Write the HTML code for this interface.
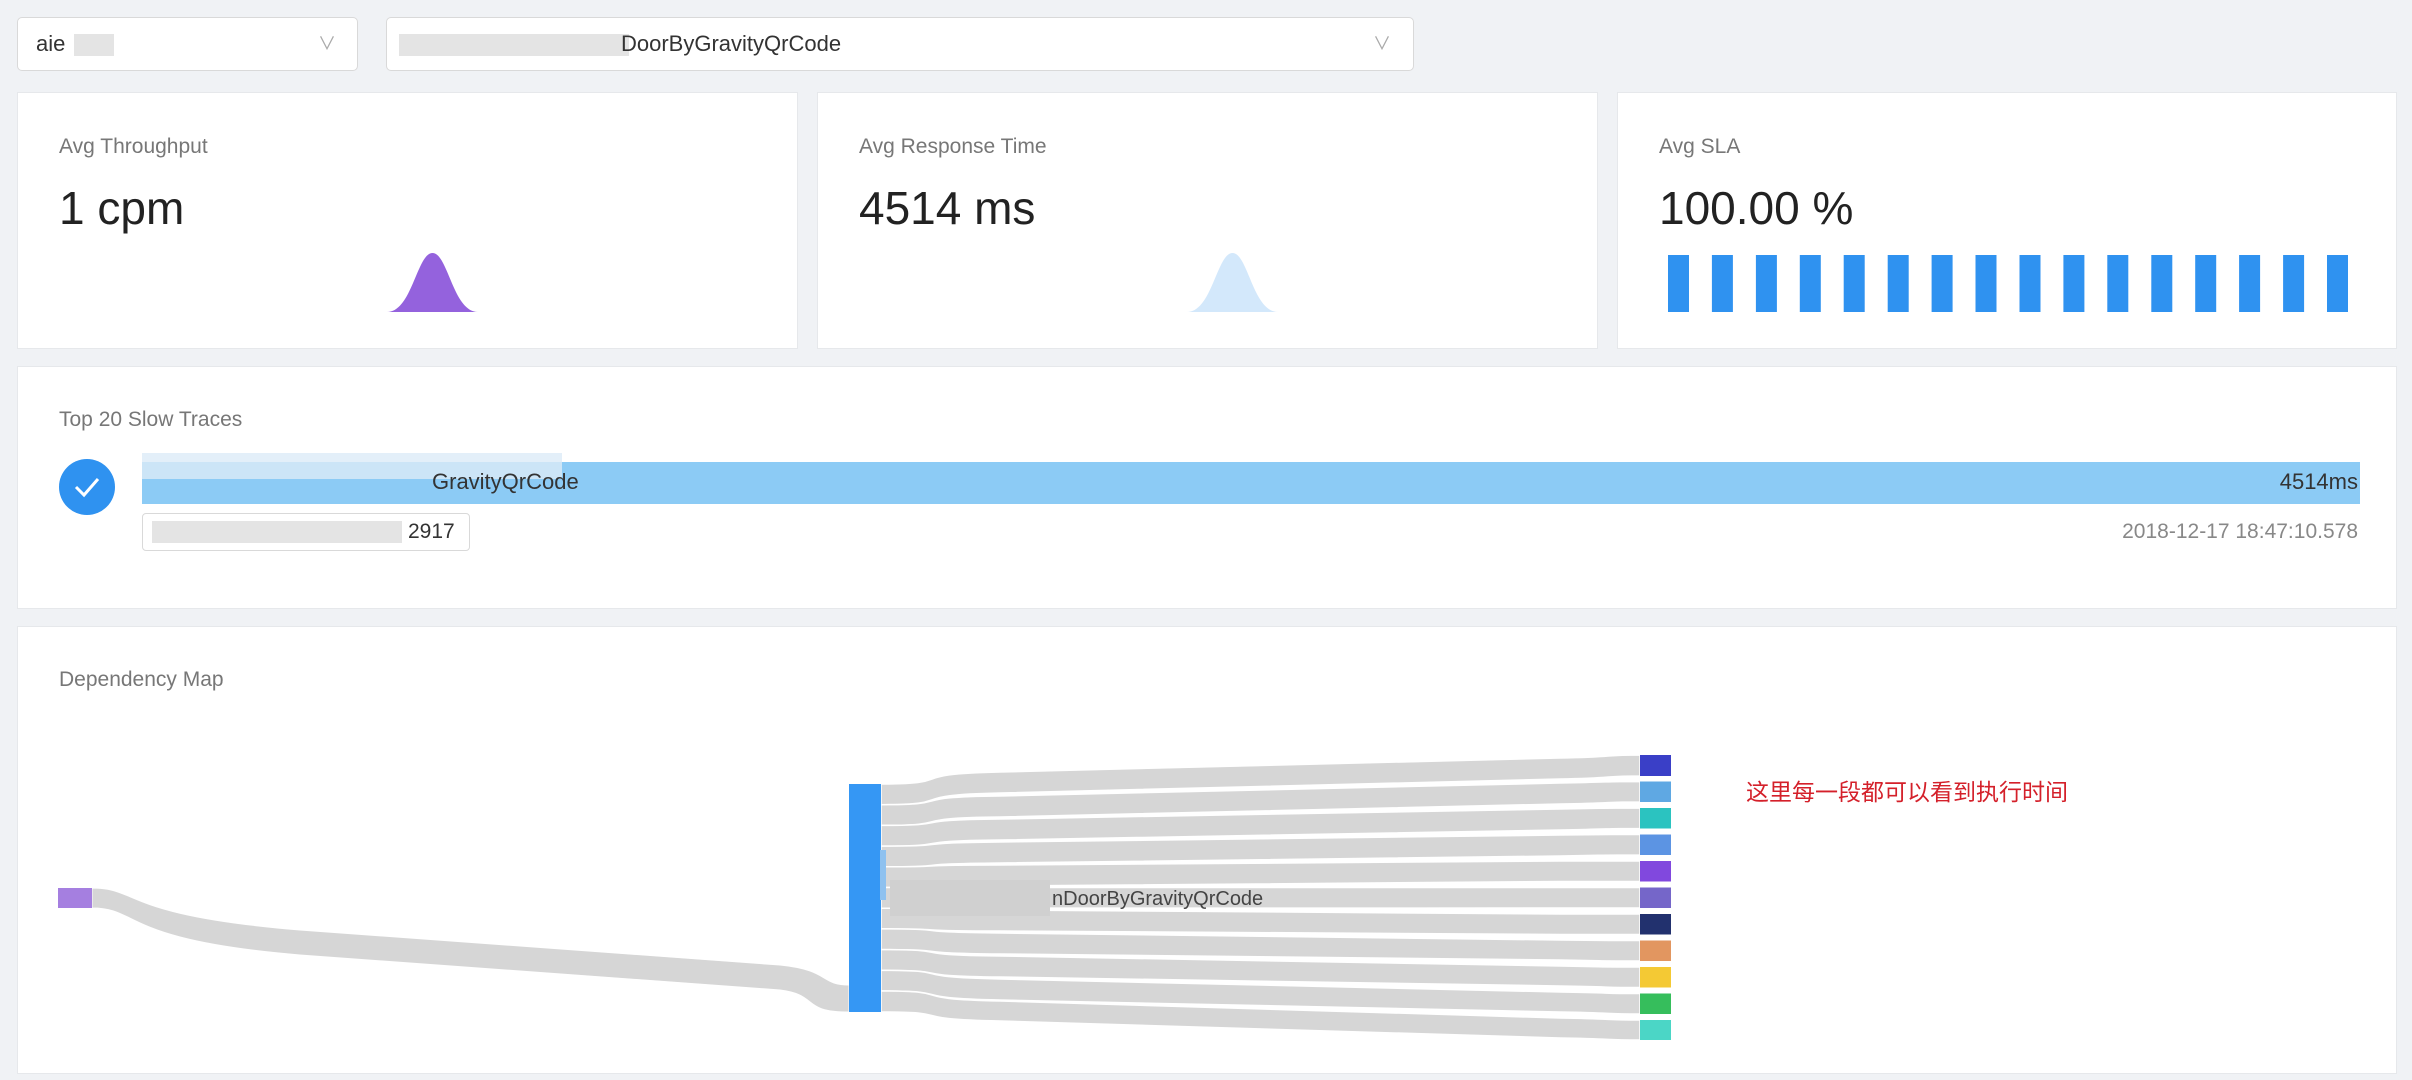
<!DOCTYPE html>
<html><head><meta charset="utf-8"><style>
body{margin:0;width:2412px;height:1080px;background:#f0f2f5;font-family:"Liberation Sans","Noto Sans CJK SC",sans-serif;position:relative;overflow:hidden}
.a{position:absolute}
.card{position:absolute;background:#fff;border:1px solid #e6e8eb;box-sizing:border-box}
.sel{position:absolute;background:#fff;border:1px solid #d9d9d9;border-radius:5px;box-sizing:border-box}
.t{position:absolute;color:#777;font-size:21px}
.v{position:absolute;color:#222;font-size:46px}
.blur{position:absolute;background:#d4d4d4;opacity:.8}
</style></head><body>
<div class="sel" style="left:17px;top:17px;width:341px;height:54px">
 <div class="a" style="left:18px;top:13px;font-size:22px;color:#333">aie</div>
 <div class="blur" style="left:56px;top:16px;width:40px;height:22px;background:#ddd"></div>
 <div class="a" style="left:300px;top:12px;font-size:18px;color:#aaa">∨</div>
</div>
<div class="sel" style="left:386px;top:17px;width:1028px;height:54px">
 <div class="blur" style="left:12px;top:16px;width:230px;height:22px;background:#ddd"></div>
 <div class="a" style="left:234px;top:13px;font-size:22px;color:#333">DoorByGravityQrCode</div>
 <div class="a" style="left:986px;top:12px;font-size:18px;color:#aaa">∨</div>
</div>

<div class="card" style="left:17px;top:92px;width:781px;height:257px">
 <div class="t" style="left:41px;top:42px">Avg Throughput</div>
 <div class="v" style="left:41px;top:88px">1 cpm</div>
 <svg class="a" style="left:369px;top:160px" width="91" height="60"><path d="M0,59 C25,59 30,0 45.5,0 C61,0 66,59 91,59Z" fill="#9462dd"/></svg>
</div>
<div class="card" style="left:817px;top:92px;width:781px;height:257px">
 <div class="t" style="left:41px;top:42px">Avg Response Time</div>
 <div class="v" style="left:41px;top:88px">4514 ms</div>
 <svg class="a" style="left:369px;top:160px" width="91" height="60"><path d="M0,59 C25,59 30,0 45.5,0 C61,0 66,59 91,59Z" fill="#d3e8fb"/></svg>
</div>
<div class="card" style="left:1617px;top:92px;width:780px;height:257px">
 <div class="t" style="left:41px;top:42px">Avg SLA</div>
 <div class="v" style="left:41px;top:88px">100.00 %</div>
 <svg class="a" style="left:50px;top:162px" width="690" height="58">
  <g fill="#2f92f0">
  <rect x="0" width="21" height="57"/><rect x="43.9" width="21" height="57"/><rect x="87.9" width="21" height="57"/><rect x="131.8" width="21" height="57"/><rect x="175.7" width="21" height="57"/><rect x="219.7" width="21" height="57"/><rect x="263.6" width="21" height="57"/><rect x="307.5" width="21" height="57"/><rect x="351.5" width="21" height="57"/><rect x="395.4" width="21" height="57"/><rect x="439.3" width="21" height="57"/><rect x="483.3" width="21" height="57"/><rect x="527.2" width="21" height="57"/><rect x="571.1" width="21" height="57"/><rect x="615.1" width="21" height="57"/><rect x="659" width="21" height="57"/>
  </g></svg>
</div>

<div class="card" style="left:17px;top:366px;width:2380px;height:243px">
 <div class="t" style="left:41px;top:41px">Top 20 Slow Traces</div>
 <svg class="a" style="left:40px;top:92px" width="58" height="58"><circle cx="29" cy="28" r="28" fill="#2f92f0"/><path d="M18,28 l8,8 l14,-16" stroke="#fff" stroke-width="3" fill="none"/></svg>
 <div class="a" style="left:124px;top:95px;width:2218px;height:42px;background:#8ccbf5"></div>
 <div class="blur" style="left:124px;top:86px;width:420px;height:26px;background:#dcebf7"></div>
 <div class="a" style="left:414px;top:102px;font-size:22px;color:#333">GravityQrCode</div>
 <div class="a" style="right:38px;top:102px;font-size:22px;color:#333">4514ms</div>
 <div class="a" style="left:124px;top:146px;width:328px;height:38px;border:1px solid #d9d9d9;border-radius:4px;box-sizing:border-box"></div>
 <div class="blur" style="left:134px;top:154px;width:250px;height:22px;background:#ddd"></div>
 <div class="a" style="left:390px;top:153px;font-size:21px;color:#333">2917</div>
 <div class="a" style="right:38px;top:153px;font-size:21px;color:#888">2018-12-17 18:47:10.578</div>
</div>

<div class="card" style="left:17px;top:626px;width:2380px;height:448px">
 <div class="t" style="left:41px;top:41px">Dependency Map</div>
</div>
<svg class="a" style="left:0;top:0" width="2412" height="1080">
 <path d="M92,888 C140,888 120,915 300,930 L780,965 C830,970 820,985 849,985 L849,1012 C800,1012 820,995 780,990 L300,955 C120,940 140,908 92,908Z" fill="#d6d6d6" stroke="#fff" stroke-width="1"/>
 <g fill="#d6d6d6" stroke="#fff" stroke-width="1.5">
 <path d="M881,784 C960,784 900,774 1000,772 L1560,758 C1620,757 1600,755 1640,755 L1640,776 C1600,776 1620,778 1560,779 L1000,793 C900,795 960,804.7 881,804.7Z"/>
 <path d="M881,804.7 C960,804.7 900,797 1000,796 L1560,783 C1620,782 1600,781.5 1640,781.5 L1640,802 C1600,802 1620,803 1560,804 L1000,817 C900,818 960,825.4 881,825.4Z"/>
 <path d="M881,825.4 C960,825.4 900,820 1000,819 L1560,809 C1620,808 1600,808 1640,808 L1640,828.5 C1600,828.5 1620,829 1560,830 L1000,840 C900,841 960,846.1 881,846.1Z"/>
 <path d="M881,846.1 C960,846.1 900,843 1000,842 L1560,835 C1620,834.5 1600,834.5 1640,834.5 L1640,855 C1600,855 1620,855 1560,856 L1000,863 C900,864 960,866.8 881,866.8Z"/>
 <path d="M881,866.8 C960,866.8 900,865 1000,865 L1560,861 L1640,861 L1640,881.5 L1560,881.5 L1000,886 C900,886 960,887.5 881,887.5Z"/>
 <path d="M881,887.5 L1640,887.5 L1640,908 L881,908.2Z"/>
 <path d="M881,908.2 C960,908.2 900,910 1000,910 L1560,914 L1640,914 L1640,934.5 L1560,934.5 L1000,931 C900,931 960,928.9 881,928.9Z"/>
 <path d="M881,928.9 C960,928.9 900,932 1000,933 L1560,940 C1620,940.5 1600,940.5 1640,940.5 L1640,961 C1600,961 1620,961 1560,960 L1000,954 C900,953 960,949.6 881,949.6Z"/>
 <path d="M881,949.6 C960,949.6 900,955 1000,956 L1560,966 C1620,967 1600,967 1640,967 L1640,987.5 C1600,987.5 1620,987 1560,986 L1000,977 C900,976 960,970.3 881,970.3Z"/>
 <path d="M881,970.3 C960,970.3 900,977 1000,979 L1560,992 C1620,993 1600,993.5 1640,993.5 L1640,1014 C1600,1014 1620,1013 1560,1012 L1000,1000 C900,998 960,991 881,991Z"/>
 <path d="M881,991 C960,991 900,999 1000,1001 L1560,1018 C1620,1019 1600,1020 1640,1020 L1640,1040 C1600,1040 1620,1039 1560,1038 L1000,1021 C900,1019 960,1012 881,1012Z"/>
 </g>
 <rect x="58" y="888" width="34" height="20" fill="#a57fe0"/>
 <rect x="849" y="784" width="32" height="228" fill="#3597f4"/>
 <rect x="1640" y="755" width="31" height="21" fill="#3a3fc7"/>
 <rect x="1640" y="781.5" width="31" height="20.5" fill="#5fa8e3"/>
 <rect x="1640" y="808" width="31" height="20.5" fill="#2bc3c0"/>
 <rect x="1640" y="834.5" width="31" height="20.5" fill="#5c94e3"/>
 <rect x="1640" y="861" width="31" height="20.5" fill="#8148de"/>
 <rect x="1640" y="887.5" width="31" height="20.5" fill="#7566c9"/>
 <rect x="1640" y="914" width="31" height="20.5" fill="#22316e"/>
 <rect x="1640" y="940.5" width="31" height="20.5" fill="#e29660"/>
 <rect x="1640" y="967" width="31" height="20.5" fill="#f4c934"/>
 <rect x="1640" y="993.5" width="31" height="20.5" fill="#36be5c"/>
 <rect x="1640" y="1020" width="31" height="20" fill="#4bd6c6"/>
 <rect x="880" y="850" width="6" height="50" fill="#8ec1ef"/>
 <rect x="890" y="880" width="160" height="36" fill="#d0d0d0"/>
 <text x="1052" y="905" font-size="20" fill="#444" font-family="Liberation Sans">nDoorByGravityQrCode</text>
 <text x="1746" y="800" font-size="23" fill="#d4202a" font-family="Liberation Sans, Noto Sans CJK SC, sans-serif">这里每一段都可以看到执行时间</text>
</svg>
</body></html>
